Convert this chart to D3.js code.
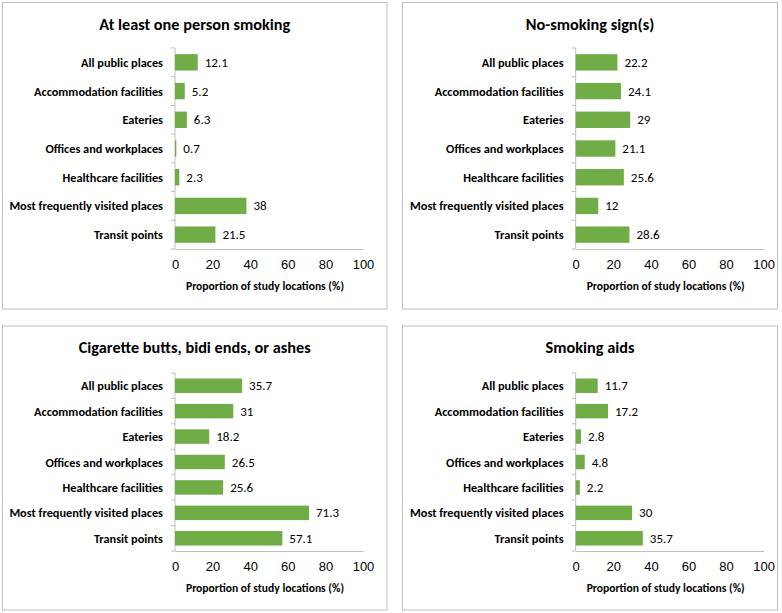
<!DOCTYPE html>
<html>
<head>
<meta charset="utf-8">
<script src="https://cdn.jsdelivr.net/npm/d3@7"></script>
<style>
  body { margin: 0; background: #fff; }
  svg { font-family: Carlito, Calibri, Lato, sans-serif; }
</style>
</head>
<body>
<script>
var categories = ["All public places", "Accommodation facilities", "Eateries",
  "Offices and workplaces", "Healthcare facilities", "Most frequently visited places", "Transit points"];
var titles = ["At least one person smoking", "No-smoking sign(s)",
  "Cigarette butts, bidi ends, or ashes", "Smoking aids"];
var smokingValues = [12.1, 5.2, 6.3, 0.7, 2.3, 38, 21.5];
var signValues = [22.2, 24.1, 29, 21.1, 25.6, 12, 28.6];
var buttsValues = [35.7, 31, 18.2, 26.5, 25.6, 71.3, 57.1];
var aidsValues = [11.7, 17.2, 2.8, 4.8, 2.2, 30, 35.7];
var xTicks = [0, 20, 40, 60, 80, 100];
var axisTitle = "Proportion of study locations (%)";

var allValues = [smokingValues, signValues, buttsValues, aidsValues];

// panel boxes
var boxes = [
  {x: 2.5, y: 2.5, w: 384.5, h: 306.5, x0: 175, top: 48, bottom: 249},
  {x: 402.5, y: 2.5, w: 375, h: 306.5, x0: 575.7, top: 48, bottom: 249},
  {x: 2.5, y: 326, w: 384.5, h: 284, x0: 175, top: 373, bottom: 551},
  {x: 402.5, y: 326, w: 375, h: 284, x0: 575.7, top: 373, bottom: 551}
];

var svg = d3.select("body").append("svg").attr("width", 782).attr("height", 613);

boxes.forEach(function(b, p) {
  var g = svg.append("g");
  var values = allValues[p];

  g.append("rect")
    .attr("x", b.x).attr("y", b.y)
    .attr("width", b.w).attr("height", b.h)
    .attr("fill", "#fff")
    .attr("stroke", "#bfbfbf");

  g.append("text")
    .attr("x", b.x + b.w / 2)
    .attr("y", b.y + 21)
    .attr("text-anchor", "middle")
    .attr("dominant-baseline", "central")
    .attr("font-size", "16.3px")
    .attr("font-weight", "bold")
    .text(titles[p]);

  var x = d3.scaleLinear().domain([0, 100]).range([b.x0, b.x0 + 188]);
  var y = d3.scaleBand().domain(categories).range([b.top, b.bottom])
    .paddingInner(0.43).paddingOuter(0.215);

  // y axis with ticks at band edges
  var yAxis = g.append("g");
  yAxis.append("line")
    .attr("x1", b.x0).attr("x2", b.x0)
    .attr("y1", b.top).attr("y2", b.bottom)
    .attr("stroke", "#bfbfbf");
  var edges = d3.range(categories.length + 1).map(function(i) {
    return b.top + i * (b.bottom - b.top) / categories.length;
  });
  yAxis.selectAll("line.tick")
    .data(edges)
    .enter().append("line")
    .attr("class", "tick")
    .attr("x1", b.x0 - 4).attr("x2", b.x0)
    .attr("y1", function(d) { return d; })
    .attr("y2", function(d) { return d; })
    .attr("stroke", "#bfbfbf");

  g.selectAll("text.cat")
    .data(categories)
    .enter().append("text")
    .attr("class", "cat")
    .attr("x", b.x0 - 12)
    .attr("y", function(d) { return y(d) + y.bandwidth() / 2; })
    .attr("text-anchor", "end")
    .attr("dominant-baseline", "central")
    .attr("font-size", "12.3px")
    .attr("font-weight", "bold")
    .text(function(d) { return d; });

  // x axis
  var xAxis = d3.axisBottom(x).tickValues(xTicks).tickSize(0).tickPadding(11);
  var xg = g.append("g")
    .attr("transform", "translate(0," + b.bottom + ")")
    .call(xAxis);
  xg.select(".domain").attr("stroke", "#bfbfbf");
  xg.selectAll("text")
    .attr("font-family", null)
    .attr("font-size", "13px")
    .attr("fill", "#000");

  g.append("text")
    .attr("x", b.x0 + 90)
    .attr("y", b.bottom + 37)
    .attr("text-anchor", "middle")
    .attr("dominant-baseline", "central")
    .attr("font-size", "11.6px")
    .attr("font-weight", "bold")
    .text(axisTitle);

  g.selectAll("rect.bar")
    .data(values)
    .enter().append("rect")
    .attr("class", "bar")
    .attr("x", x(0))
    .attr("y", function(d, i) { return y(categories[i]); })
    .attr("width", function(d) { return x(d) - x(0); })
    .attr("height", y.bandwidth())
    .attr("fill", "#70ad47");

  g.selectAll("text.val")
    .data(values)
    .enter().append("text")
    .attr("class", "val")
    .attr("x", function(d) { return x(d) + 7; })
    .attr("y", function(d, i) { return y(categories[i]) + y.bandwidth() / 2; })
    .attr("dominant-baseline", "central")
    .attr("font-size", "13px")
    .text(function(d) { return d; });
});
</script>
</body>
</html>
